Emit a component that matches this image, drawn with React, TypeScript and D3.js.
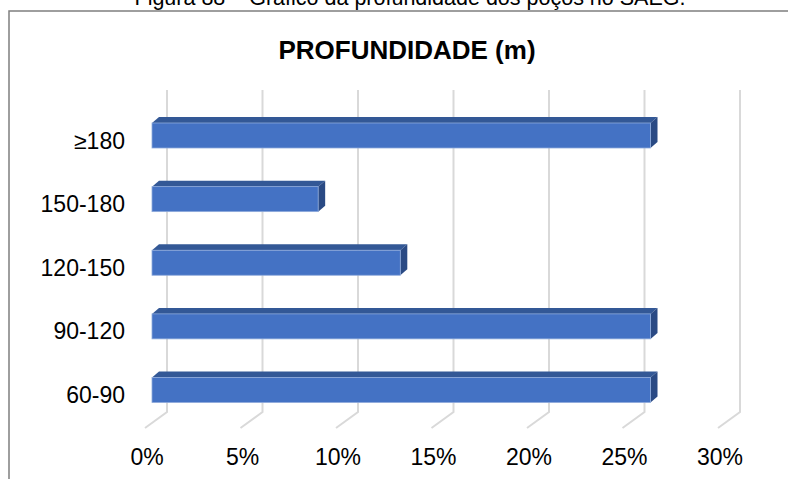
import React, { useRef, useEffect } from "react";
import * as d3 from "d3";

const categories = ["≥180", "150-180", "120-150", "90-120", "60-90"];
const shares = [0.261, 0.087, 0.13, 0.261, 0.261];
const ticks = [0, 0.05, 0.1, 0.15, 0.2, 0.25, 0.3];
const title = "PROFUNDIDADE (m)";
const caption = "Figura 88 – Gráfico da profundidade dos poços no SAEG.";

const W = 788;
const H = 479;

const App: React.FC = () => {
  const ref = useRef<SVGSVGElement>(null);

  useEffect(() => {
    if (!ref.current) return;
    const svg = d3.select(ref.current);
    svg.selectAll("*").remove();
    const font = "'Liberation Sans', Arial, sans-serif";

    // oblique 3d: front floor line and back wall offset
    const frontX = 145;
    const floorY = 428;
    const wallDx = 22;
    const wallDy = -16;
    const wallTop = 90;
    // bars sit between front and back
    const barX0 = 152;
    const barDx = 7;
    const barDy = -6;
    const barH = 25;

    const x = d3.scaleLinear().domain([0, 0.3]).range([0, 573]);
    const y = d3.scalePoint<string>().domain(categories).range([135.5, 390]);

    // caption, cut by the top edge as in the source page
    svg
      .append("text")
      .attr("x", 410)
      .attr("y", 5)
      .attr("text-anchor", "middle")
      .attr("font-family", font)
      .attr("font-size", 21.5)
      .attr("fill", "#000")
      .text(caption);

    // frame
    svg
      .append("rect")
      .attr("x", 9)
      .attr("y", 11)
      .attr("width", 900)
      .attr("height", 600)
      .attr("fill", "#fff")
      .attr("stroke", "#7f7f7f")
      .attr("stroke-width", 1.5);

    svg
      .append("text")
      .attr("x", 407)
      .attr("y", 59)
      .attr("text-anchor", "middle")
      .attr("font-family", font)
      .attr("font-size", 26)
      .attr("font-weight", "bold")
      .attr("fill", "#000")
      .text(title);

    // gridlines on back wall + floor
    const grid = svg.append("g").attr("fill", "none").attr("stroke", "#d9d9d9").attr("stroke-width", 2);
    ticks.forEach((t) => {
      const bx = frontX + wallDx + x(t);
      grid
        .append("path")
        .attr("d", `M${bx},${wallTop}L${bx},${floorY + wallDy}L${frontX + x(t)},${floorY}`);
    });

    // bars
    const bars = svg.append("g");
    categories.forEach((c, i) => {
      const cy = y(c)!;
      const top = cy - barH / 2;
      const bot = cy + barH / 2;
      const x1 = barX0 + x(shares[i]);
      bars
        .append("path")
        .attr("d", `M${barX0},${top}L${barX0 + barDx},${top + barDy}L${x1 + barDx},${top + barDy}L${x1},${top}Z`)
        .attr("fill", "#335896");
      bars
        .append("path")
        .attr("d", `M${x1},${top}L${x1 + barDx},${top + barDy}L${x1 + barDx},${bot + barDy}L${x1},${bot}Z`)
        .attr("fill", "#2a4a84");
      bars
        .append("rect")
        .attr("x", barX0)
        .attr("y", top)
        .attr("width", x1 - barX0)
        .attr("height", barH)
        .attr("fill", "#4472c4")
        .attr("stroke", "#8eaadb")
        .attr("stroke-width", 0.8);
    });

    // category labels
    svg
      .append("g")
      .selectAll("text")
      .data(categories)
      .join("text")
      .attr("x", 125)
      .attr("y", (d) => y(d)! + 13)
      .attr("text-anchor", "end")
      .attr("font-family", font)
      .attr("font-size", 23)
      .attr("fill", "#000")
      .text((d) => d);

    // value axis labels
    svg
      .append("g")
      .selectAll("text")
      .data(ticks)
      .join("text")
      .attr("x", (d) => frontX + 2 + x(d))
      .attr("y", 465)
      .attr("text-anchor", "middle")
      .attr("font-family", font)
      .attr("font-size", 23)
      .attr("fill", "#000")
      .text((d) => d3.format(".0%")(d));
  }, []);

  return (
    <svg
      ref={ref}
      width={W}
      height={H}
      style={{ position: "absolute", left: 0, top: 0, background: "#fff" }}
    ></svg>
  );
};

export default App;
